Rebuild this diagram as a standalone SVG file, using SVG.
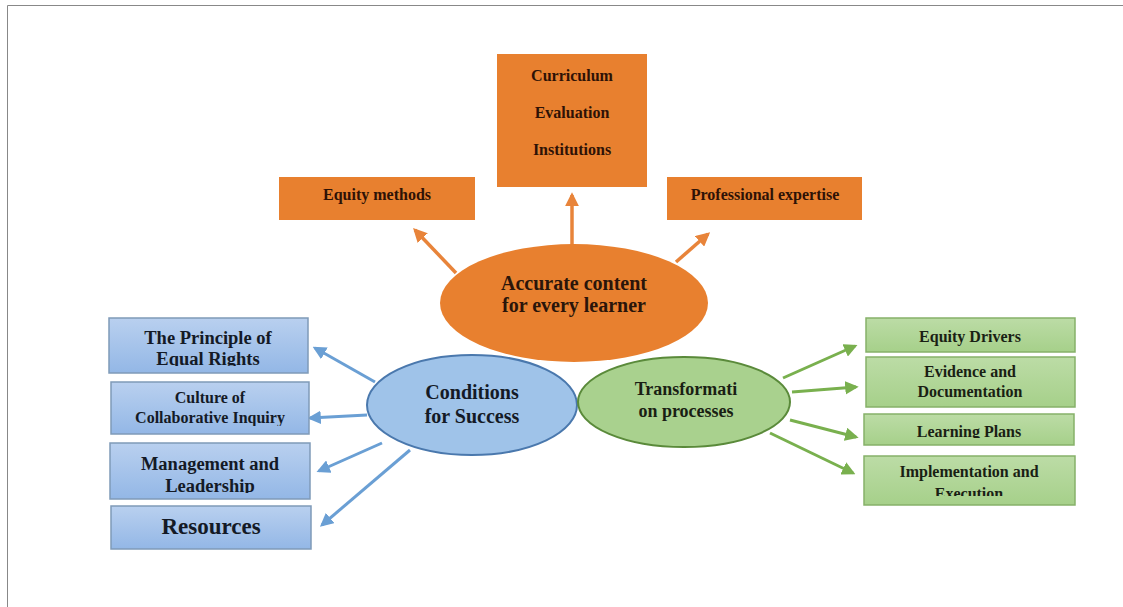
<svg xmlns="http://www.w3.org/2000/svg" width="1123" height="607" viewBox="0 0 1123 607">
<style>
text{font-family:"Liberation Serif","Times New Roman",serif;font-weight:bold;text-anchor:middle;fill:#1a1a1a}
.ob{fill:#e8802f}
.ot{fill:#2e1206;font-size:16px}
.bb{fill:url(#bg);stroke:#7f9ab8;stroke-width:1.5}
.gb{fill:url(#gg);stroke:#86b169;stroke-width:1.5}
.bt{font-size:18.5px;fill:#141a26}
.gt{font-size:16px;fill:#1a1f14}
.oa{stroke:#e8843a;stroke-width:3.5;fill:none}
.ba{stroke:#6a9fd4;stroke-width:3;fill:none}
.ga{stroke:#79b04e;stroke-width:3;fill:none}
</style>
<defs>
<linearGradient id="bg" x1="0" y1="0" x2="0" y2="1"><stop offset="0" stop-color="#b9d0ef"/><stop offset="1" stop-color="#93b7e6"/></linearGradient>
<linearGradient id="gg" x1="0" y1="0" x2="0" y2="1"><stop offset="0" stop-color="#bcdca6"/><stop offset="1" stop-color="#a6d08a"/></linearGradient>
<marker id="mo" viewBox="0 0 10 10" refX="8" refY="5" markerWidth="4" markerHeight="4" orient="auto"><path d="M0,0L10,5L0,10z" fill="#e8843a"/></marker>
<marker id="mb" viewBox="0 0 10 10" refX="8" refY="5" markerWidth="4.5" markerHeight="4.5" orient="auto"><path d="M0,0L10,5L0,10z" fill="#6a9fd4"/></marker>
<marker id="mg" viewBox="0 0 10 10" refX="8" refY="5" markerWidth="4.5" markerHeight="4.5" orient="auto"><path d="M0,0L10,5L0,10z" fill="#79b04e"/></marker>
<clipPath id="c1"><rect x="109" y="318" width="200" height="48"/></clipPath>
<clipPath id="c2"><rect x="111" y="382" width="199" height="44"/></clipPath>
<clipPath id="c3"><rect x="110" y="443" width="200" height="50"/></clipPath>
<clipPath id="c4"><rect x="864" y="414" width="211" height="24"/></clipPath>
<clipPath id="c5"><rect x="864" y="456" width="211" height="40"/></clipPath>
</defs>
<rect width="1123" height="607" fill="#fff"/>
<path d="M7.5,607V5.5H1123" fill="none" stroke="#888" stroke-width="1"/>

<g id="connectors">
<line class="oa" x1="456" y1="273" x2="415" y2="230" marker-end="url(#mo)"/>
<line class="oa" x1="572" y1="245" x2="572" y2="195" marker-end="url(#mo)"/>
<line class="oa" x1="676" y1="262" x2="708" y2="234" marker-end="url(#mo)"/>
<line class="ba" x1="375" y1="382" x2="315" y2="348" marker-end="url(#mb)"/>
<line class="ba" x1="367" y1="415" x2="310" y2="418" marker-end="url(#mb)"/>
<line class="ba" x1="382" y1="443" x2="319" y2="471" marker-end="url(#mb)"/>
<line class="ba" x1="410" y1="450" x2="322" y2="525" marker-end="url(#mb)"/>
<line class="ga" x1="783" y1="378" x2="855" y2="346" marker-end="url(#mg)"/>
<line class="ga" x1="792" y1="392" x2="856" y2="387" marker-end="url(#mg)"/>
<line class="ga" x1="790" y1="420" x2="856" y2="437" marker-end="url(#mg)"/>
<line class="ga" x1="770" y1="433" x2="853" y2="473" marker-end="url(#mg)"/>
</g>

<g id="top-box">
<rect class="ob" x="497" y="54" width="150" height="133"/>
<text class="ot" x="572" y="81">Curriculum</text>
<text class="ot" x="572" y="118">Evaluation</text>
<text class="ot" x="572" y="155">Institutions</text>
</g>
<g id="equity-methods">
<rect class="ob" x="279" y="177" width="196" height="43"/>
<text class="ot" x="377" y="200">Equity methods</text>
</g>
<g id="professional-expertise">
<rect class="ob" x="667" y="177" width="195" height="43"/>
<text class="ot" x="765" y="200">Professional expertise</text>
</g>
<g id="accurate-content">
<ellipse cx="574" cy="303" rx="134" ry="59" fill="#e8802f"/>
<text x="574" y="290" style="font-size:20px;fill:#2a150a">Accurate content</text>
<text x="574" y="312" style="font-size:20px;fill:#2a150a">for every learner</text>
</g>

<g id="conditions">
<ellipse cx="472" cy="405" rx="105" ry="50" fill="#9fc3e9" stroke="#4a78ad" stroke-width="2"/>
<text x="472" y="399" style="font-size:20px;fill:#141a26">Conditions</text>
<text x="472" y="423" style="font-size:20px;fill:#141a26">for Success</text>
</g>
<g id="equal-rights">
<rect class="bb" x="109" y="318" width="199" height="55"/>
<g clip-path="url(#c1)"><text class="bt" x="208" y="344">The Principle of</text><text class="bt" x="208" y="365">Equal Rights</text></g>
</g>
<g id="culture">
<rect class="bb" x="111" y="382" width="198" height="52"/>
<g clip-path="url(#c2)"><text class="bt" x="210" y="403" style="font-size:16px">Culture of</text><text class="bt" x="210" y="423" style="font-size:16px">Collaborative Inquiry</text></g>
</g>
<g id="management">
<rect class="bb" x="110" y="443" width="200" height="56"/>
<g clip-path="url(#c3)"><text class="bt" x="210" y="470">Management and</text><text class="bt" x="210" y="492">Leadership</text></g>
</g>
<g id="resources">
<rect class="bb" x="111" y="506" width="200" height="43"/>
<text x="211" y="534" style="font-size:23px;fill:#141a26">Resources</text>
</g>

<g id="transformation">
<ellipse cx="684" cy="402" rx="106" ry="45" fill="#a9d18e" stroke="#5a8a3a" stroke-width="2"/>
<text x="686" y="395" style="font-size:18px;fill:#1a1f14">Transformati</text>
<text x="686" y="417" style="font-size:18px;fill:#1a1f14">on processes</text>
</g>
<g id="equity-drivers">
<rect class="gb" x="866" y="318" width="209" height="34"/>
<text class="gt" x="970" y="342">Equity Drivers</text>
</g>
<g id="evidence">
<rect class="gb" x="866" y="357" width="209" height="50"/>
<text class="gt" x="970" y="377">Evidence and</text>
<text class="gt" x="970" y="397">Documentation</text>
</g>
<g id="learning-plans">
<rect class="gb" x="864" y="414" width="210" height="31"/>
<g clip-path="url(#c4)"><text class="gt" x="969" y="437">Learning Plans</text></g>
</g>
<g id="implementation">
<rect class="gb" x="864" y="456" width="211" height="49"/>
<g clip-path="url(#c5)"><text class="gt" x="969" y="477">Implementation and</text><text class="gt" x="969" y="499">Execution</text></g>
</g>
</svg>
